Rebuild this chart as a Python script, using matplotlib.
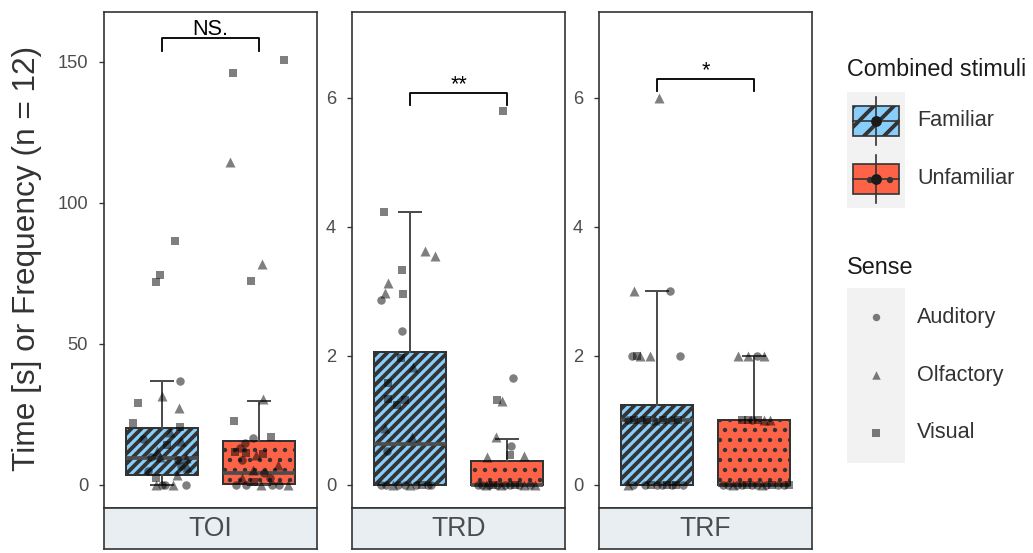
import matplotlib
matplotlib.use('Agg')
import matplotlib.pyplot as plt
from matplotlib.patches import Rectangle
import numpy as np

plt.rcParams['font.family'] = ['Liberation Sans', 'DejaVu Sans']
plt.rcParams['hatch.linewidth'] = 2.3

W, H, DPI = 1033, 553, 120

panels = ['TOI', 'TRD', 'TRF']
groups = ['Familiar', 'Unfamiliar']
senses = ['Auditory', 'Olfactory', 'Visual']
sense_codes = ['A', 'O', 'V']
markers = {'A': 'o', 'O': '^', 'V': 's'}
fills = ['#87CEFA', '#FF6347']
hatches = ['////', '..']
hatch_lw = [2.3, 1.4]

# box statistics per panel: [Familiar, Unfamiliar]
q1_toi, med_toi, q3_toi, lo_toi, hi_toi = [3.5, 0.35], [9.5, 4.1], [20.1, 15.4], [0, 0], [36.9, 29.9]
q1_trd, med_trd, q3_trd, lo_trd, hi_trd = [0, 0], [0.63, 0], [2.06, 0.37], [0, 0], [4.23, 0.72]
q1_trf, med_trf, q3_trf, lo_trf, hi_trf = [0, 0], [1.0, 0], [1.24, 1.0], [0, 0], [3.0, 2.0]

# raw points (value, horizontal jitter, sense)
toi_fam_val = [86.5, 74.5, 72, 37, 31.6, 29.2, 27.4, 21.9, 20.7, 18.8, 16.3, 15.4, 10, 10,
               8.9, 9.6, 6.7, 6.5, 3.5, 2.4, 0, 0, 0, 0, 0, 12, 5, 14]
toi_fam_dx = [0.13, -0.02, -0.06, 0.18, 0.0, -0.25, 0.17, -0.3, 0.18, 0.08, -0.2, 0.2, -0.11, -0.02,
              0.16, 0.25, 0.2, 0.26, 0.15, -0.06, -0.06, 0.03, 0.11, 0.25, 0.0, -0.05, -0.15, 0.05]
toi_fam_sense = ['V', 'V', 'V', 'A', 'O', 'V', 'O', 'V', 'V', 'O', 'A', 'O', 'A', 'O',
                 'A', 'O', 'A', 'O', 'O', 'V', 'O', 'A', 'O', 'A', 'A', 'O', 'A', 'V']

toi_unf_val = [150.8, 146, 114.5, 78.4, 72.3, 30.4, 22.7, 17.1, 16.5, 15, 11.5, 11.2, 10.6, 11,
               8.9, 5.3, 4.1, 2.4, 2.4, 0, 0, 0, 0, 0, 0, 7, 13, 1]
toi_unf_dx = [0.26, -0.27, -0.3, 0.03, -0.08, 0.04, -0.26, 0.13, -0.06, -0.14, -0.25, -0.13, -0.03, 0.04,
              -0.17, -0.06, 0.05, 0.11, -0.17, -0.24, -0.13, 0.02, 0.14, 0.21, 0.3, 0.2, -0.2, -0.05]
toi_unf_sense = ['V', 'V', 'O', 'O', 'V', 'O', 'V', 'V', 'A', 'A', 'V', 'V', 'O', 'V',
                 'A', 'O', 'A', 'A', 'O', 'A', 'A', 'O', 'A', 'A', 'O', 'O', 'A', 'V']

trd_fam_val = [4.23, 3.62, 3.55, 3.33, 3.13, 2.98, 2.96, 2.87, 2.39, 1.96, 1.83, 1.58, 1.34, 1.32,
               1.24, 0.88, 0.75, 0.52, 0, 0, 0, 0, 0, 0, 0, 0, 0, 0]
trd_fam_dx = [-0.27, 0.15, 0.26, -0.08, -0.23, -0.26, -0.07, -0.3, -0.08, -0.09, 0.03, -0.23, -0.23, -0.05,
              -0.14, -0.26, 0.02, -0.24, -0.3, -0.25, -0.18, -0.12, -0.05, 0.0, 0.06, 0.12, 0.18, 0.22]
trd_fam_sense = ['V', 'O', 'O', 'V', 'O', 'O', 'V', 'A', 'A', 'V', 'O', 'V', 'V', 'V',
                 'V', 'O', 'O', 'A', 'A', 'A', 'O', 'A', 'A', 'O', 'A', 'V', 'A', 'A']

trd_unf_val = [5.79, 1.66, 1.32, 1.30, 0.74, 0.6, 0.47, 0.43, 0.45,
               0, 0, 0, 0, 0, 0, 0, 0, 0, 0, 0, 0, 0, 0]
trd_unf_dx = [-0.04, 0.06, -0.1, -0.05, -0.11, 0.04, 0.03, -0.21, 0.18,
              -0.3, -0.26, -0.22, -0.18, -0.14, -0.1, -0.06, -0.02, 0.03, 0.08, 0.13, 0.18, 0.24, 0.29]
trd_unf_sense = ['V', 'A', 'V', 'O', 'O', 'A', 'V', 'O', 'O',
                 'A', 'A', 'O', 'A', 'V', 'A', 'O', 'A', 'A', 'V', 'A', 'O', 'A', 'O']

trf_fam_val = [6, 3, 3, 2, 2, 2, 2, 2, 1, 1, 1, 1, 1, 1, 1, 1,
               0, 0, 0, 0, 0, 0, 0, 0, 0, 0]
trf_fam_dx = [0.02, -0.24, 0.13, -0.26, -0.21, -0.18, -0.07, 0.24,
              -0.3, -0.24, -0.17, -0.1, -0.02, 0.06, 0.14, 0.22,
              -0.3, -0.25, -0.12, -0.06, 0.0, 0.05, 0.1, 0.15, 0.2, 0.27]
trf_fam_sense = ['O', 'O', 'A', 'A', 'V', 'O', 'O', 'A',
                 'A', 'V', 'A', 'V', 'O', 'V', 'A', 'V',
                 'O', 'A', 'A', 'V', 'A', 'A', 'V', 'A', 'V', 'A']

trf_unf_val = [2, 2, 2, 2, 1, 1, 1, 1, 1, 1,
               0, 0, 0, 0, 0, 0, 0, 0, 0, 0, 0, 0, 0, 0]
trf_unf_dx = [-0.16, -0.06, 0.03, 0.1, -0.12, -0.06, -0.02, 0.04, 0.1, 0.17,
              -0.32, -0.27, -0.22, -0.17, -0.12, -0.07, -0.02, 0.03, 0.08, 0.13, 0.19, 0.25, 0.31, 0.36]
trf_unf_sense = ['O', 'O', 'A', 'O', 'V', 'V', 'A', 'V', 'O', 'O',
                 'A', 'A', 'O', 'A', 'A', 'V', 'A', 'A', 'O', 'A', 'V', 'A', 'A', 'V']

y_limits = [(-8.2, 167.7), (-0.357, 7.33), (-0.357, 7.33)]
y_ticks = [[0, 50, 100, 150], [0, 2, 4, 6], [0, 2, 4, 6]]
sig_labels = ['NS.', '**', '*']
sig_y = [158.5, 6.07, 6.29]
sig_tip = [153.9, 5.89, 6.11]

box_stats = [
    (q1_toi, med_toi, q3_toi, lo_toi, hi_toi),
    (q1_trd, med_trd, q3_trd, lo_trd, hi_trd),
    (q1_trf, med_trf, q3_trf, lo_trf, hi_trf),
]
points = [
    [(toi_fam_val, toi_fam_dx, toi_fam_sense), (toi_unf_val, toi_unf_dx, toi_unf_sense)],
    [(trd_fam_val, trd_fam_dx, trd_fam_sense), (trd_unf_val, trd_unf_dx, trd_unf_sense)],
    [(trf_fam_val, trf_fam_dx, trf_fam_sense), (trf_unf_val, trf_unf_dx, trf_unf_sense)],
]

panel_left = [104, 352, 599]
panel_w = 213
panel_top, panel_bot, strip_bot = 12, 508, 549


def fig_rect(x0, y0, x1, y1):
    return [x0 / W, 1 - y1 / H, (x1 - x0) / W, (y1 - y0) / H]


def set_hatch_lw(patch, lw):
    # per-patch hatch width where this matplotlib allows it
    if hasattr(patch, 'set_hatch_linewidth'):
        patch.set_hatch_linewidth(lw)


fig = plt.figure(figsize=(W / DPI, H / DPI), dpi=DPI)

for p, name in enumerate(panels):
    x0 = panel_left[p]
    ax = fig.add_axes(fig_rect(x0, panel_top, x0 + panel_w, panel_bot))
    q1, med, q3, lo, hi = box_stats[p]
    stats = [dict(q1=q1[g], med=med[g], q3=q3[g], whislo=lo[g], whishi=hi[g], fliers=[])
             for g in range(2)]
    bp = ax.bxp(stats, positions=[1, 2], widths=0.75, capwidths=0.22, patch_artist=True,
                showfliers=False,
                boxprops=dict(edgecolor='#333333', linewidth=1.2),
                whiskerprops=dict(color='#4D4D4D', linewidth=1.2),
                capprops=dict(color='#4D4D4D', linewidth=1.2),
                medianprops=dict(color='#4D4D4D', linewidth=2.2))
    for g, box in enumerate(bp['boxes']):
        box.set_facecolor(fills[g])
        box.set_hatch(hatches[g])
        set_hatch_lw(box, hatch_lw[g])
        box.set_zorder(2)

    for g in range(2):
        val, dx, sense = points[p][g]
        val = np.array(val)
        xs = g + 1 + np.array(dx)
        sense = np.array(sense)
        for code in sense_codes:
            m = sense == code
            size = 36 if code == 'O' else (24 if code == 'V' else 26)
            ax.scatter(xs[m], val[m], marker=markers[code], s=size, color='black',
                       alpha=0.5, linewidths=0, zorder=4)

    # significance bracket
    ax.plot([1, 1, 2, 2], [sig_tip[p], sig_y[p], sig_y[p], sig_tip[p]], color='black', lw=1.1,
            zorder=5)
    ax.annotate(sig_labels[p], (1.5, sig_y[p]), xytext=(0, 2), textcoords='offset points',
                ha='center', va='baseline', fontsize=13, color='black')

    ax.set_xlim(0.4, 2.6)
    ax.set_ylim(*y_limits[p])
    ax.set_yticks(y_ticks[p])
    ax.set_xticks([])
    ax.tick_params(axis='y', length=3, width=0.8, color='#333333', pad=6.5,
                   labelsize=11, labelcolor='#4D4D4D')
    for s in ax.spines.values():
        s.set_color('#333333')
        s.set_linewidth(1.0)

    sax = fig.add_axes(fig_rect(x0, panel_bot, x0 + panel_w, strip_bot))
    sax.set_facecolor('#E9EEF2')
    sax.set_xticks([])
    sax.set_yticks([])
    for s in sax.spines.values():
        s.set_color('#333333')
        s.set_linewidth(1.0)
    sax.text(0.5, 0.5, name, ha='center', va='center', fontsize=16, color='#4D4D4D',
             transform=sax.transAxes)

fig.text(27.5 / W, 1 - 258 / H, 'Time [s] or Frequency (n = 12)', rotation=90,
         ha='center', va='center', fontsize=19, color='#333333')

# legend
lax = fig.add_axes([0, 0, 1, 1])
lax.set_xlim(0, W)
lax.set_ylim(H, 0)
lax.axis('off')

lax.text(847, 70, 'Combined stimuli', ha='left', va='center', fontsize=14, color='#1A1A1A')
lax.add_patch(Rectangle((847, 92), 58, 116, facecolor='#F2F2F2', edgecolor='none'))
leg_hatch = ['//', '.']
for g, grp in enumerate(groups):
    cy = 121 + 58 * g
    lax.plot([876, 876], [cy - 24, cy + 24], color='#333333', lw=1.0)
    key = Rectangle((853, cy - 15), 46, 30, facecolor=fills[g], edgecolor='#333333',
                    hatch=leg_hatch[g], lw=1.0)
    set_hatch_lw(key, hatch_lw[g])
    lax.add_patch(key)
    lax.plot([853, 899], [cy, cy], color='#333333', lw=1.0)
    lax.scatter([876], [cy], s=30, color='#1A1A1A', zorder=5)
    lax.text(917, cy, grp, ha='left', va='center', fontsize=13, color='#333333')

lax.text(847, 267, 'Sense', ha='left', va='center', fontsize=14, color='#1A1A1A')
lax.add_patch(Rectangle((847, 288), 58, 175, facecolor='#F2F2F2', edgecolor='none'))
for i, sname in enumerate(senses):
    cy = 317 + 58 * i
    code = sense_codes[i]
    lax.scatter([876], [cy], marker=markers[code], s=26 if code == 'O' else 20,
                color='black', alpha=0.5, linewidths=0)
    lax.text(917, cy, sname, ha='left', va='center', fontsize=13, color='#333333')

fig.savefig('out.png', dpi=DPI)
